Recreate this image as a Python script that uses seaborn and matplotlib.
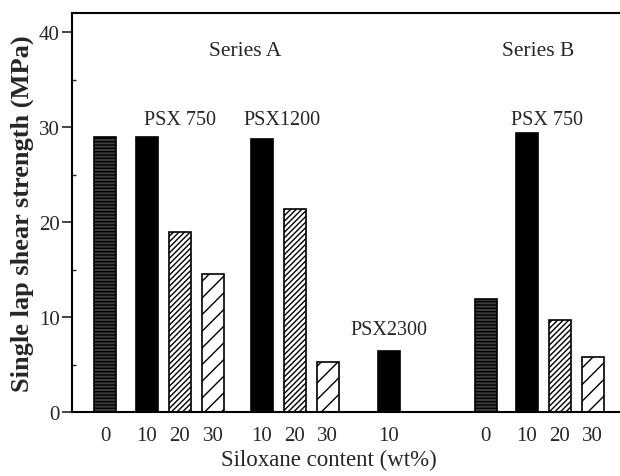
import numpy as np
import pandas as pd
import matplotlib
matplotlib.use("Agg")
import matplotlib.pyplot as plt
import seaborn as sns

# ---- data ----
group_names = ["", "PSX 750", "PSX1200", "PSX2300", "", "PSX 750"]
group_contents = [[0], [10, 20, 30], [10, 20, 30], [10], [0], [10, 20, 30]]
strength = [28.9, 29.0, 19.0, 14.5, 28.7, 21.4, 5.3, 6.4, 11.9, 29.4, 9.7, 5.8]
series_labels = ["Series A", "Series B"]
y_ticks = [0, 10, 20, 30, 40]

# ---- layout (spacing between groups, in bar-slot units) ----
group_gaps = [0, 1.27, 1.48, 1.85, 2.94, 1.24]

positions, contents, group_idx = [], [], []
pos = 0.0
for g, cont in enumerate(group_contents):
    if g > 0:
        pos += group_gaps[g]
    for k, c in enumerate(cont):
        if k > 0:
            pos += 1.0
        positions.append(round(pos, 3))
        contents.append(c)
        group_idx.append(g)

df = pd.DataFrame({"pos": positions, "strength": strength,
                   "content": contents, "group": group_idx})

sns.set_style("ticks")
plt.rcParams["font.family"] = ["Liberation Serif", "DejaVu Serif"]
plt.rcParams["hatch.linewidth"] = 1.0

fig = plt.figure(figsize=(6.2, 4.77), dpi=100)
ax = fig.add_axes([72 / 620, 1 - 413 / 477, 1 - 72 / 620, (413 - 14) / 477])

sns.barplot(data=df, x="pos", y="strength", native_scale=True, width=0.67,
            color="white", edgecolor="black", linewidth=1.2, ax=ax,
            errorbar=None)

styles = {
    0: dict(facecolor="#3c3c3c", hatch="-----"),
    10: dict(facecolor="black", hatch=None),
    20: dict(facecolor="white", hatch="//////"),
    30: dict(facecolor="white", hatch="//"),
}
patches = sorted(ax.patches, key=lambda p: p.get_x())
for p, c in zip(patches, contents):
    st = styles[c]
    p.set_facecolor(st["facecolor"])
    p.set_hatch(st["hatch"])
    p.set_edgecolor("black")

ax.set_xlim(-1.0, (620 - 105) / 33)
ax.set_ylim(0, 42)
ax.set_yticks(y_ticks)
ax.set_yticks([5, 15, 25, 35], minor=True)
ax.set_xticks(positions)
ax.set_xticklabels([str(c) for c in contents])
ax.tick_params(axis="x", length=0, labelsize=15, pad=10)
ax.tick_params(axis="y", which="major", length=7, width=1.2, labelsize=15,
               direction="out", pad=2)
ax.tick_params(axis="y", which="minor", length=3, width=1.0, direction="in")

for side in ["left", "bottom", "top"]:
    ax.spines[side].set_visible(True)
    ax.spines[side].set_linewidth(1.5)
    ax.spines[side].set_color("black")
ax.spines["right"].set_visible(False)

ax.set_xlabel("Siloxane content (wt%)", fontsize=16.5)
ax.xaxis.set_label_coords((329 - 72) / 548, -0.093)
ax.set_ylabel("Single lap shear strength (MPa)", fontsize=19, fontweight="bold")
ax.yaxis.set_label_coords(-0.07, 0.5)

# group labels
grp_pos = {}
for p, g in zip(positions, group_idx):
    grp_pos.setdefault(g, []).append(p)
label_x = {1: np.mean(grp_pos[1]), 2: grp_pos[2][0] + 0.6,
           3: grp_pos[3][0], 5: np.mean(grp_pos[5]) - 0.4}
label_y = {1: 30.8, 2: 30.8, 3: 8.7, 5: 30.8}
for g, name in enumerate(group_names):
    if name:
        ax.text(label_x[g], label_y[g], name, ha="center", va="center", fontsize=14.5)

ax.text((245 - 105) / 33, 38.0, series_labels[0], ha="center", va="center", fontsize=15.5)
ax.text((538 - 105) / 33, 38.0, series_labels[1], ha="center", va="center", fontsize=15.5)

fig.savefig("out.png", dpi=100)
